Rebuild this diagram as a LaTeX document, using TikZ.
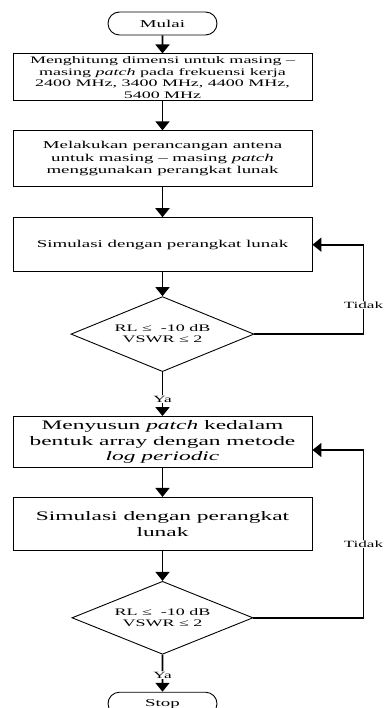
\documentclass[tikz,border=0pt]{standalone}
\usepackage{fontspec}
\setmainfont{Liberation Serif}[FakeStretch=1.8, ItalicFont={Liberation Serif Italic}]
\usepackage{tikz}
\usetikzlibrary{shapes.geometric, shapes.misc, positioning, arrows.meta, calc}
\tikzset{
  startstop/.style={rounded rectangle, minimum width=109pt, minimum height=23pt, inner sep=0pt, text centered, draw=black, line width=0.9pt},
  process/.style={rectangle, minimum width=299pt, inner sep=1pt, align=center, draw=black, line width=0.9pt},
  decision/.style={diamond, aspect=2.44, minimum width=183pt, minimum height=75pt, inner sep=0pt, align=center, draw=black, line width=0.9pt, font=\fontsize{10}{11}\selectfont},
  ket/.style={fill=white, inner sep=1pt, font=\fontsize{9.5}{11}\selectfont},
  arrow/.style={line width=1.8pt, -{Triangle[width=14pt,length=9pt]}}
}

\begin{document}
\begin{tikzpicture}[
        every node/.style={font=\fontsize{10.5}{12.5}\selectfont} % <-- ukuran huruf dasar
    ]
        \useasboundingbox (0,0) rectangle (385pt,-708pt);
        \node (mulai) [startstop] at (162.5pt,-23.5pt) {Mulai};
        \node (hitung) [process, below=18pt of mulai, minimum height=47pt, font=\fontsize{10}{11.5}\selectfont] {Menghitung dimensi untuk masing –\\ masing \textit{patch} pada frekuensi kerja\\ 2400 MHz, 3400 MHz, 4400 MHz,\\ 5400 MHz};
        \node (rancang) [process, below=29pt of hitung, minimum height=56pt] {Melakukan perancangan antena\\ untuk masing – masing \textit{patch}\\ menggunakan perangkat lunak};
        \node (sim1) [process, below=30pt of rancang, minimum height=54pt] {Simulasi dengan perangkat lunak};
        \node (cek1) [decision, below=24pt of sim1] {RL ≤ \ -10 dB\\ VSWR ≤ 2};
        \node (susun) [process, below=44pt of cek1, minimum height=51pt, font=\fontsize{13}{15.5}\selectfont] {Menyusun \textit{patch} kedalam\\ bentuk array dengan metode\\ \textit{log periodic}};
        \node (sim2) [process, below=29pt of susun, minimum height=53pt, font=\fontsize{13}{15.5}\selectfont] {Simulasi dengan perangkat\\ lunak};
        \node (cek2) [decision, below=30pt of sim2, minimum height=73pt, minimum width=181pt] {RL ≤ \ -10 dB\\ VSWR ≤ 2};
        \node (stop) [startstop, below=37pt of cek2] {Stop};

        \coordinate [right=109pt of cek1.east] (balik1);
        \coordinate [right=110pt of cek2.east] (balik2);

        \draw [arrow] (mulai) -- (hitung);
        \draw [arrow] (hitung) -- (rancang);
        \draw [arrow] (rancang) -- (sim1);
        \draw [arrow] (sim1) -- (cek1);
        \draw [arrow] (cek1) -- (susun) node [ket, pos=0.62] {Ya};
        \draw [arrow] (susun) -- (sim2);
        \draw [arrow] (sim2) -- (cek2);
        \draw [arrow] (cek2) -- (stop) node [ket, pos=0.55] {Ya};
        \draw [arrow] (cek1.east) -- (balik1) |- (sim1.east) node [ket, pos=0.163] {Tidak};
        \draw [arrow] (cek2.east) -- (balik2) |- ([yshift=-8pt]susun.east) node [ket, pos=0.22] {Tidak};
    \end{tikzpicture}
\end{document}
